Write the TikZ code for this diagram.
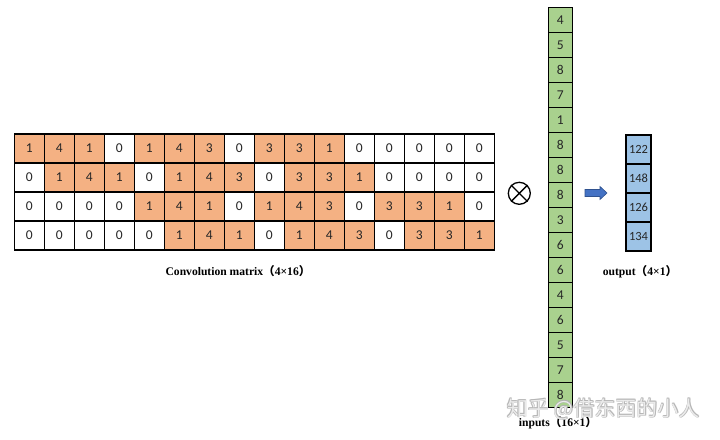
\documentclass[tikz,border=0pt]{standalone}
\usepackage{fontspec}
\setmainfont{Liberation Serif}
\newfontfamily\digitfont{Carlito}
\newfontfamily\cjk{Noto Sans CJK SC}
\usepackage{tikz}
\usetikzlibrary{positioning}
\definecolor{kernel}{HTML}{F4B183}
\definecolor{incol}{HTML}{A9D18E}
\definecolor{outcol}{HTML}{9DC3E6}
\definecolor{arrowblue}{HTML}{4472C4}
\definecolor{arrowedge}{HTML}{2F528F}

\begin{document}
\begin{tikzpicture}
	[
	x=1pt, y=-1pt,
	cell/.style = {draw, line width=1.1pt, inner sep=0pt, outer sep=0pt, text=black!85, font=\digitfont\fontsize{13.5}{13.5}\selectfont},
	mcell/.style = {cell, minimum width=30pt, minimum height=29pt},
	icell/.style = {cell, fill=incol, minimum width=24pt, minimum height=25pt},
	ocell/.style = {cell, fill=outcol, minimum width=25pt, minimum height=29pt, font=\digitfont\fontsize{12.5}{12.5}\selectfont},
	caption/.style = {font=\bfseries\fontsize{11.6}{13}\selectfont},
	wmark/.style = {font=\cjk\fontsize{21}{21}\selectfont}
	]
	\fill[white] (0,0) rectangle (720,439);
	\useasboundingbox (0,0) rectangle (720,439);
	% convolution matrix, kernel entries shaded
	\foreach \off/\vals [count=\r] in {0/{1,4,1,0,1,4,3,0,3,3,1,0,0,0,0,0},1/{0,1,4,1,0,1,4,3,0,3,3,1,0,0,0,0},4/{0,0,0,0,1,4,1,0,1,4,3,0,3,3,1,0},5/{0,0,0,0,0,1,4,1,0,1,4,3,0,3,3,1}}
		\foreach \v [count=\c] in \vals {
			\pgfmathtruncatemacro\d{\c-1-\off}
			\pgfmathtruncatemacro\hot{(\d>=0) && (\d<=10) && (mod(\d,4)!=3)}
			\ifnum\hot=1 \def\cfill{kernel}\else \def\cfill{white}\fi
			\node[mcell, fill=\cfill] (m-\r-\c) at (29.3+30*\c-30, 148.5+29*\r-29) {\v};
		}
	\node[caption] (cap-m) at (238,270.7) {Convolution matrix{\cjk （}4×16{\cjk ）}};
	% product sign
	\node[draw, circle, line width=1.3pt, minimum size=22pt, inner sep=0pt] (prod) at (519.3,193.3) {};
	\draw[line width=1.3pt] (prod.45) -- (prod.225) (prod.135) -- (prod.-45);
	% input vector
	\foreach \v [count=\k] in {4,5,8,7,1,8,8,8,3,6,6,4,6,5,7,8}
		\node[icell] (in-\k) at (560.3, 19.8+25*\k-25) {\v};
	\node[caption] (cap-in) at (558,422.5) {inputs{\cjk （}16×1{\cjk ）}};
	% arrow
	\coordinate (arr) at (596,193);
	\filldraw[fill=arrowblue, draw=arrowedge, line width=0.6pt] (arr) ++(-11,-3.5) -- ++(15,0) -- ++(0,-3) -- ++(7,6.5) -- ++(-7,6.5) -- ++(0,-3) -- ++(-15,0) -- cycle;
	% output vector
	\foreach \v [count=\k] in {122,148,126,134}
		\node[ocell] (out-\k) at (638.5, 149.5+29*\k-29) {\v};
	\node[caption] (cap-out) at (640,272) {output{\cjk （}4×1{\cjk ）}};
	% watermark, outlined
	\foreach \dx/\dy [count=\i] in {-0.7/0,0.7/0,0/-0.7,0/0.7,-0.5/-0.5,0.5/0.5,-0.5/0.5,0.5/-0.5}
		\node[wmark, text=black!30, text opacity=0.6] (wm-\i) at (603.5+\dx,409+\dy) {知乎 @借东西的小人};
	\node[wmark, text=white, text opacity=0.75] (wm) at (603.5,409) {知乎 @借东西的小人};
\end{tikzpicture}
\end{document}
